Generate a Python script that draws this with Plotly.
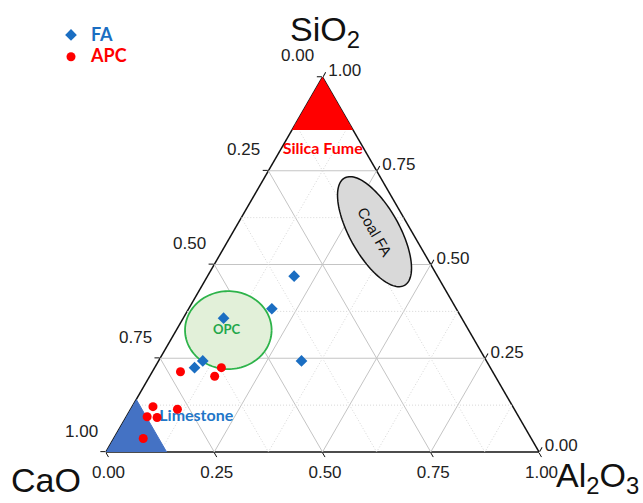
import numpy as np
import plotly.graph_objects as go

# ---------------- data (fractions: SiO2, CaO, Al2O3) ----------------
fa_name = "FA"
fa_sio2 = [0.469, 0.382, 0.357, 0.243, 0.225, 0.243]
fa_cao = [0.331, 0.426, 0.550, 0.655, 0.683, 0.427]
fa_al2o3 = [0.200, 0.192, 0.093, 0.102, 0.092, 0.330]

apc_name = "APC"
apc_sio2 = [0.214, 0.225, 0.202, 0.121, 0.114, 0.094, 0.092, 0.036]
apc_cao = [0.721, 0.621, 0.648, 0.831, 0.778, 0.858, 0.836, 0.896]
apc_al2o3 = [0.065, 0.154, 0.150, 0.048, 0.108, 0.048, 0.072, 0.068]

# reference material regions
silica_fume_sio2 = [1.0, 0.86, 0.86, 1.0]
silica_fume_cao = [0.0, 0.14, 0.0, 0.0]
silica_fume_al2o3 = [0.0, 0.0, 0.14, 0.0]

limestone_sio2 = [0.0, 0.14, 0.0, 0.0]
limestone_cao = [1.0, 0.86, 0.86, 1.0]
limestone_al2o3 = [0.0, 0.0, 0.14, 0.0]

# ellipse regions: centre (SiO2, CaO, Al2O3), semi-axes (triangle side units), angle (deg)
opc_center = (0.325, 0.555, 0.120)
opc_axes = (0.100, 0.090)
opc_angle = 0.0

coalfa_center = (0.5875, 0.0861, 0.3264)
coalfa_axes = (0.142, 0.0573)
coalfa_angle = -60.8

# region labels (SiO2, CaO, Al2O3)
label_text = ["Silica Fume", "OPC", "Limestone"]
label_sio2 = [0.805, 0.323, 0.094]
label_cao = [0.097, 0.560, 0.7445]
label_al2o3 = [0.098, 0.117, 0.1615]

axis_titles = ["SiO<sub>2</sub>", "CaO", "Al<sub>2</sub>O<sub>3</sub>"]
major_ticks = [0, 0.25, 0.5, 0.75, 1.0]
minor_grid = [0.125, 0.375, 0.625, 0.875]

# ---------------- styling ----------------
FA_BLUE = "#1B6EC2"
APC_RED = "#FF0000"
W, H = 643, 503
ML, MR, MT, MB = 106, 104, 77, 51
PW, PH = W - ML - MR, H - MT - MB
TICK_FONT = dict(family="Liberation Sans", size=17, color="#222222")


def tick_text(vals):
    # each edge is labelled with the complementary component (Origin-style)
    return [f"{1 - v:.2f}" for v in vals]


def ternary_to_paper(si, al):
    # the triangle fills the plot area: bottom edge = paper y 0, apex = paper y 1
    return al + si / 2.0, si


def ellipse_ternary(center, axes, angle_deg, n=120):
    si, ca, al = center
    cx = al + si / 2.0
    cy = si * np.sqrt(3) / 2.0
    t = np.linspace(0, 2 * np.pi, n)
    th = np.radians(angle_deg)
    x = axes[0] * np.cos(t)
    y = axes[1] * np.sin(t)
    X = cx + x * np.cos(th) - y * np.sin(th)
    Y = cy + x * np.sin(th) + y * np.cos(th)
    a = Y / (np.sqrt(3) / 2.0)
    c = X - a / 2.0
    b = 1 - a - c
    return a, b, c


fig = go.Figure()

# manual grid (solid at 0.25 steps, dotted at 0.125 steps)
grid_levels = [(v, True) for v in major_ticks[1:-1]] + [(v, False) for v in minor_grid]
for v, major in grid_levels:
    style = dict(color="#c4c4c4" if major else "#d6d6d6", width=1, dash="solid" if major else "1px,2px")
    for seg in (
        ([v, v], [1 - v, 0], [0, 1 - v]),
        ([1 - v, 0], [v, v], [0, 1 - v]),
        ([1 - v, 0], [0, 1 - v], [v, v]),
    ):
        fig.add_trace(go.Scatterternary(a=seg[0], b=seg[1], c=seg[2], mode="lines",
                                        line=style, showlegend=False, hoverinfo="skip"))

# filled regions
fig.add_trace(go.Scatterternary(a=silica_fume_sio2, b=silica_fume_cao, c=silica_fume_al2o3,
                                mode="lines", fill="toself", fillcolor="#FF0000",
                                line=dict(color="#FF0000", width=1), showlegend=False, hoverinfo="skip"))
fig.add_trace(go.Scatterternary(a=limestone_sio2, b=limestone_cao, c=limestone_al2o3,
                                mode="lines", fill="toself", fillcolor="#4472C4",
                                line=dict(color="#4472C4", width=1), showlegend=False, hoverinfo="skip"))

ea, eb, ec = ellipse_ternary(opc_center, opc_axes, opc_angle)
fig.add_trace(go.Scatterternary(a=ea, b=eb, c=ec, mode="lines", fill="toself",
                                fillcolor="#E2F0D9", line=dict(color="#2DB34A", width=1.8),
                                showlegend=False, hoverinfo="skip"))
ea, eb, ec = ellipse_ternary(coalfa_center, coalfa_axes, coalfa_angle)
fig.add_trace(go.Scatterternary(a=ea, b=eb, c=ec, mode="lines", fill="toself",
                                fillcolor="#D9D9D9", line=dict(color="#111111", width=1.5),
                                showlegend=False, hoverinfo="skip"))

# region labels
label_colors = ["#FF0000", "#22A74A", "#2176C8"]
label_sizes = [16, 13, 16]
for i, txt in enumerate(label_text):
    fig.add_trace(go.Scatterternary(a=[label_sio2[i]], b=[label_cao[i]], c=[label_al2o3[i]],
                                    mode="text", text=[f"<b>{txt}</b>"], textposition="middle center",
                                    textfont=dict(family="Lato", size=label_sizes[i], color=label_colors[i]),
                                    showlegend=False, hoverinfo="skip"))

# data series
fig.add_trace(go.Scatterternary(a=fa_sio2, b=fa_cao, c=fa_al2o3, mode="markers",
                                name=f"<b><span style='color:{FA_BLUE};font-size:18px'>{fa_name}</span></b>",
                                marker=dict(symbol="diamond", size=9, color=FA_BLUE)))
fig.add_trace(go.Scatterternary(a=apc_sio2, b=apc_cao, c=apc_al2o3, mode="markers",
                                name=f"<b><span style='color:{APC_RED};font-size:18px'>{apc_name}</span></b>",
                                marker=dict(symbol="circle", size=9, color=APC_RED)))

axis_common = dict(
    tickmode="array", tickvals=major_ticks, ticktext=tick_text(major_ticks),
    ticks="outside", ticklen=5, tickcolor="#111111", tickwidth=1.2,
    tickfont=TICK_FONT,
    showgrid=False, linecolor="#111111", linewidth=1.5, layer="below traces",
    title=dict(text=""), min=0,
)

fig.update_layout(
    width=W, height=H,
    margin=dict(l=ML, r=MR, t=MT, b=MB, autoexpand=False),
    paper_bgcolor="white",
    ternary=dict(sum=1, bgcolor="white",
                 aaxis=dict(axis_common, showticklabels=False),
                 baxis=axis_common, caxis=axis_common),
    legend=dict(x=(51 - ML) / PW, y=(H - MB - 19) / PH, xanchor="left", yanchor="top",
                font=dict(family="Lato", size=14.5), bgcolor="rgba(0,0,0,0)",
                tracegroupgap=0),
    showlegend=True,
)


def px_to_paper(x, y):
    return (x - ML) / PW, (H - MB - y) / PH


annots = []
# CaO scale along the left edge (CaO = 1 - SiO2 there), labelled Origin-style
for v, txt in zip(major_ticks, tick_text(major_ticks)):
    ex, ey = ternary_to_paper(v, 0.0)
    annots.append(dict(text=txt, x=ex - 25 / PW, y=ey + 21 / PH, xref="paper", yref="paper",
                       showarrow=False, xanchor="center", yanchor="middle", font=TICK_FONT))

for txt, (x, y), anchor in zip(axis_titles, [(325, 32), (46, 480), (641, 478)], ["center", "center", "right"]):
    px, py = px_to_paper(x, y)
    annots.append(dict(text=txt, x=px, y=py, xref="paper", yref="paper", showarrow=False,
                       xanchor=anchor, yanchor="middle",
                       font=dict(family="Liberation Sans", size=34, color="#111111")))
si, ca, al = coalfa_center
cx, cy = ternary_to_paper(si, al)
annots.append(dict(text="Coal FA", x=cx, y=cy, xref="paper", yref="paper", showarrow=False,
                   textangle=60, xanchor="center", yanchor="middle",
                   font=dict(family="Liberation Sans", size=15, color="#111111")))
fig.update_layout(annotations=annots)

fig.write_html("out.html", config={"displayModeBar": False},
               post_script="document.body.style.margin='0';document.body.style.overflow='hidden';")
